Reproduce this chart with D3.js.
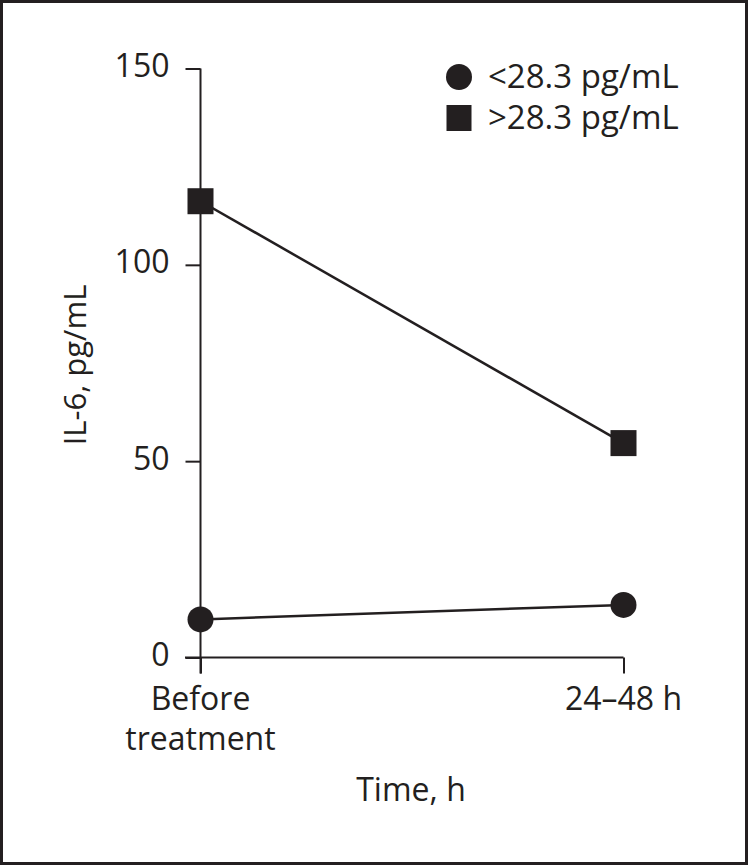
<!DOCTYPE html>
<html>
<head>
<meta charset="utf-8">
<script src="https://cdn.jsdelivr.net/npm/d3@7"></script>
<style>
  body { margin: 0; background: #fff; }
  svg text { font-family: "Open Sans", "Noto Sans", sans-serif; fill: #231f20; }
</style>
</head>
<body>
<svg id="chart" width="748" height="865"></svg>
<script>
// data
var timepoints = ["Before treatment", "24–48 h"];
var lowValues  = [9.7, 13.4];    // <28.3 pg/mL
var highValues = [116.2, 54.6];  // >28.3 pg/mL
var yTicks = [0, 50, 100, 150];
var seriesNames = ["<28.3 pg/mL", ">28.3 pg/mL"];

var ink = "#231f20";
var fontSize = 32;
var svg = d3.select("#chart");

// frame
svg.append("rect")
    .attr("x", 1.5).attr("y", 1.5)
    .attr("width", 745).attr("height", 862)
    .attr("fill", "none")
    .attr("stroke", ink)
    .attr("stroke-width", 3);

var x = d3.scalePoint().domain(timepoints).range([200.5, 623.5]);
var y = d3.scaleLinear().domain([0, 150]).range([657.5, 68.5]);

// y axis
var yAxis = svg.append("g")
    .attr("transform", "translate(200.5,0)")
    .call(d3.axisLeft(y).tickValues(yTicks).tickSize(15).tickPadding(16).tickSizeOuter(0));
yAxis.attr("font-size", null).attr("font-family", null);
yAxis.select(".domain").remove();
yAxis.append("line")
    .attr("x1", 0).attr("x2", 0)
    .attr("y1", y(150)).attr("y2", y(0) + 16)
    .attr("stroke", ink).attr("stroke-width", 2);
yAxis.selectAll(".tick line").attr("stroke", ink).attr("stroke-width", 2);
yAxis.selectAll(".tick text")
    .attr("font-size", fontSize)
    .attr("dy", "0.25em")
    .attr("fill", ink);

// x axis
var xAxis = svg.append("g")
    .attr("transform", "translate(0," + y(0) + ")")
    .call(d3.axisBottom(x).tickSize(16).tickSizeOuter(0).tickFormat(""));
xAxis.select(".domain").remove();
xAxis.append("line")
    .attr("x1", 185).attr("x2", x(timepoints[1]))
    .attr("y1", 0).attr("y2", 0)
    .attr("stroke", ink).attr("stroke-width", 2);
xAxis.selectAll(".tick line").attr("stroke", ink).attr("stroke-width", 2);

// x tick labels (wrapped by hand)
var xLabelLines = [["Before", "treatment"], ["24–48 h"]];
timepoints.forEach(function(t, i) {
  var txt = svg.append("text")
      .attr("x", x(t))
      .attr("y", 710)
      .attr("text-anchor", "middle")
      .attr("font-size", fontSize);
  xLabelLines[i].forEach(function(line, j) {
    txt.append("tspan").attr("x", x(t)).attr("dy", j ? 40 : 0).text(line);
  });
});

// axis titles
svg.append("text")
    .attr("x", 411).attr("y", 801)
    .attr("text-anchor", "middle")
    .attr("font-size", fontSize)
    .text("Time, h");
svg.append("text")
    .attr("transform", "translate(86,365) rotate(-90)")
    .attr("text-anchor", "middle")
    .attr("font-size", 31)
    .text("IL-6, pg/mL");

// lines
var line = d3.line()
    .x(function(d, i) { return x(timepoints[i]); })
    .y(function(d) { return y(d); });

[lowValues, highValues].forEach(function(vals) {
  svg.append("path")
      .datum(vals)
      .attr("d", line)
      .attr("fill", "none")
      .attr("stroke", ink)
      .attr("stroke-width", 2.5);
});

// markers
svg.selectAll(".low")
    .data(lowValues)
    .enter().append("circle")
    .attr("class", "low")
    .attr("cx", function(d, i) { return x(timepoints[i]); })
    .attr("cy", function(d) { return y(d); })
    .attr("r", 13)
    .attr("fill", ink);

svg.selectAll(".high")
    .data(highValues)
    .enter().append("rect")
    .attr("class", "high")
    .attr("x", function(d, i) { return x(timepoints[i]) - 13; })
    .attr("y", function(d) { return y(d) - 13; })
    .attr("width", 26).attr("height", 26)
    .attr("fill", ink);

// legend
var legend = svg.append("g").attr("transform", "translate(459,0)");
seriesNames.forEach(function(name, i) {
  var cy = 77 + i * 41;
  if (i === 0) {
    legend.append("circle").attr("cx", 0).attr("cy", cy).attr("r", 13).attr("fill", ink);
  } else {
    legend.append("rect").attr("x", -12.5).attr("y", cy - 13).attr("width", 25).attr("height", 26).attr("fill", ink);
  }
  legend.append("text")
      .attr("x", 29).attr("y", cy + 11)
      .attr("font-size", 33)
      .text(name);
});
</script>
</body>
</html>
